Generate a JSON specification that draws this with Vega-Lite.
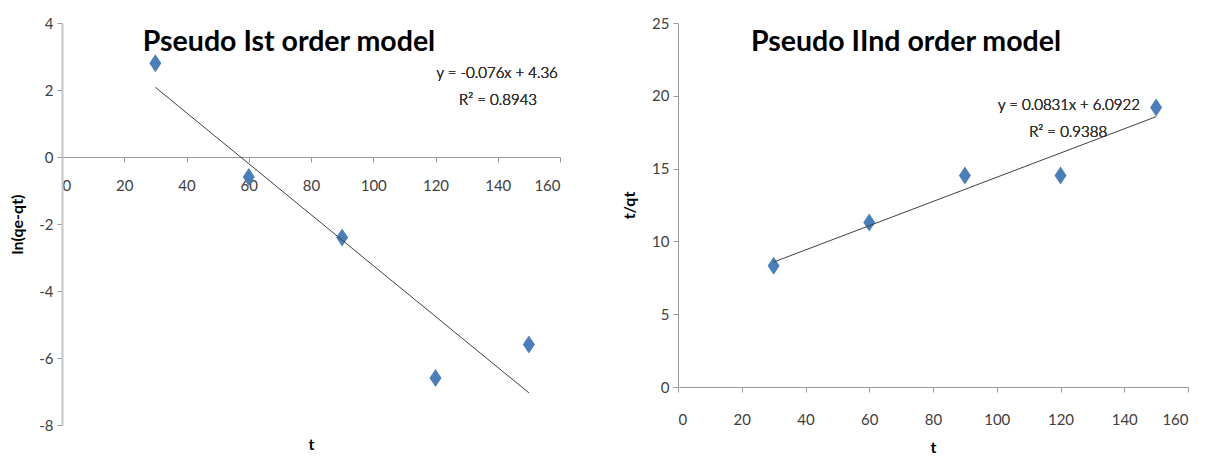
{
  "$schema": "https://vega.github.io/schema/vega-lite/v6.json",
  "background": "white",
  "padding": {"left": 9, "top": 16, "right": 5, "bottom": 5},
  "config": {
    "font": "Lato",
    "view": {"stroke": null},
    "axis": {"grid": false, "labelFont": "Lato", "labelFontSize": 15, "labelColor": "#404040", "titleFont": "Lato", "titleFontSize": 16, "titleFontWeight": "bold", "titleColor": "#000", "tickColor": "#9a9a9a", "domainColor": "#9a9a9a", "tickSize": 5, "labelPadding": 4},
    "concat": {"spacing": 60}
  },
  "datasets": {
    "first": [
      {"t": 30, "v": 2.8},
      {"t": 60, "v": -0.6},
      {"t": 90, "v": -2.4},
      {"t": 120, "v": -6.6},
      {"t": 150, "v": -5.6}
    ],
    "second": [
      {"t": 30, "v": 8.33},
      {"t": 60, "v": 11.3},
      {"t": 90, "v": 14.52},
      {"t": 120, "v": 14.52},
      {"t": 150, "v": 19.2}
    ]
  },
  "hconcat": [
    {
      "width": 498,
      "height": 402,
      "title": {"text": "Pseudo Ist order model", "font": "Lato", "fontSize": 28.5, "fontWeight": "bold", "color": "#000", "anchor": "middle", "frame": "group", "dx": -22, "offset": -40},
      "data": {"name": "first"},
      "layer": [
        {
          "mark": {"type": "point", "shape": "M0,-1.5L1,0L0,1.5L-1,0Z", "filled": true, "size": 144, "color": "#4a7ebb", "opacity": 1},
          "encoding": {
            "x": {"field": "t", "type": "quantitative", "scale": {"domain": [0, 160], "nice": false}, "axis": {"values": [0, 20, 40, 60, 80, 100, 120, 140, 160], "title": "t", "offset": -268, "titleY": 279, "titleBaseline": "top", "labelPadding": 16}},
            "y": {"field": "v", "type": "quantitative", "scale": {"domain": [-8, 4], "nice": false}, "axis": {"values": [-8, -6, -4, -2, 0, 2, 4], "labelExpr": "replace(datum.label, '−', '-')", "title": "ln(qe-qt)", "domainColor": "#c4c4c4", "domainWidth": 2, "titlePadding": 13}}
          }
        },
        {
          "transform": [{"regression": "v", "on": "t"}],
          "mark": {"type": "line", "color": "#404040", "strokeWidth": 1},
          "encoding": {
            "x": {"field": "t", "type": "quantitative"},
            "y": {"field": "v", "type": "quantitative"}
          }
        },
        {
          "mark": {"type": "text", "align": "right", "baseline": "middle", "font": "Lato", "fontSize": 15, "fontWeight": 300, "color": "#333333"},
          "encoding": {"x": {"datum": 159.3}, "y": {"datum": 2.5}, "text": {"value": "y = -0.076x + 4.36"}}
        },
        {
          "mark": {"type": "text", "align": "center", "baseline": "middle", "font": "Lato", "fontSize": 15, "fontWeight": 300, "color": "#333333"},
          "encoding": {"x": {"datum": 140.1}, "y": {"datum": 1.7}, "text": {"value": "R² = 0.8943"}}
        }
      ]
    },
    {
      "width": 510,
      "height": 364,
      "title": {"text": "Pseudo IInd order model", "font": "Lato", "fontSize": 28.5, "fontWeight": "bold", "color": "#000", "anchor": "middle", "frame": "group", "dx": -27, "offset": -40},
      "data": {"name": "second"},
      "layer": [
        {
          "mark": {"type": "point", "shape": "M0,-1.5L1,0L0,1.5L-1,0Z", "filled": true, "size": 144, "color": "#4a7ebb", "opacity": 1},
          "encoding": {
            "x": {"field": "t", "type": "quantitative", "scale": {"domain": [0, 160], "nice": false}, "axis": {"values": [0, 20, 40, 60, 80, 100, 120, 140, 160], "title": "t", "titlePadding": 12, "labelPadding": 20}},
            "y": {"field": "v", "type": "quantitative", "scale": {"domain": [0, 25], "nice": false}, "axis": {"values": [0, 5, 10, 15, 20, 25], "title": "t/qt", "titlePadding": 14}}
          }
        },
        {
          "transform": [{"regression": "v", "on": "t"}],
          "mark": {"type": "line", "color": "#404040", "strokeWidth": 1},
          "encoding": {
            "x": {"field": "t", "type": "quantitative"},
            "y": {"field": "v", "type": "quantitative"}
          }
        },
        {
          "mark": {"type": "text", "align": "right", "baseline": "middle", "font": "Lato", "fontSize": 15, "fontWeight": 300, "color": "#333333"},
          "encoding": {"x": {"datum": 144.9}, "y": {"datum": 19.37}, "text": {"value": "y = 0.0831x + 6.0922"}}
        },
        {
          "mark": {"type": "text", "align": "center", "baseline": "middle", "font": "Lato", "fontSize": 15, "fontWeight": 300, "color": "#333333"},
          "encoding": {"x": {"datum": 122.4}, "y": {"datum": 17.51}, "text": {"value": "R² = 0.9388"}}
        }
      ]
    }
  ]
}
